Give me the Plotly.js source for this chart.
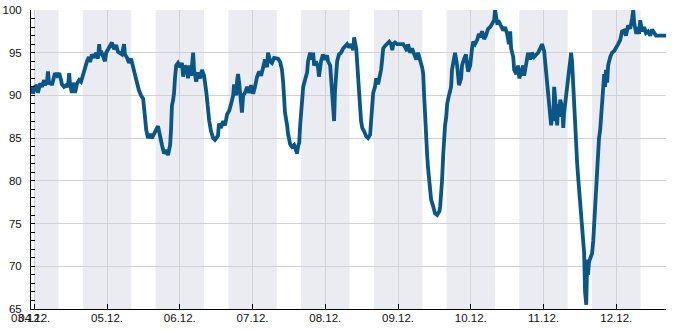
<!DOCTYPE html>
<html>
<head>
<meta charset="utf-8">
<script src="https://cdn.plot.ly/plotly-3.0.1.min.js"></script>
<style>html,body{margin:0;padding:0;background:#fff;}#chart{width:685px;height:330px;}</style>
</head>
<body>
<div id="chart"></div>
<script>
// hours since 04.12. 00:00
var hours = [
-1.1,-0.8,-0.4,0.2,0.9,1.2,1.9,2.5,3.2,3.5,4.2,4.5,4.9,5.5,5.8,6.5,6.8,7.5,8.2,8.8,9.1,9.8,10.5,11.1,11.5,11.8,12.4,12.8,13.4,14.1,14.8,15.4,16.1,16.7,17.4,18.0,18.4,19.0,19.7,20.4,21.0,21.4,21.7,
22.0,22.7,23.3,23.7,24.3,25.0,25.6,26.3,27.0,27.6,28.3,28.9,29.6,29.9,30.6,31.2,31.9,32.6,33.2,33.9,34.5,35.2,35.9,36.5,36.9,37.5,38.2,38.8,39.5,40.2,40.8,41.5,42.1,42.8,43.5,44.1,44.8,45.1,45.4,45.8,46.1,46.4,46.8,47.4,48.1,48.7,49.1,49.7,50.4,50.7,51.1,
51.7,52.4,52.7,53.4,54.0,54.7,55.3,56.0,56.7,57.0,57.3,57.7,58.3,59.0,59.6,60.3,60.6,60.9,61.6,62.3,62.9,63.6,64.3,64.9,65.6,65.9,66.6,66.9,67.2,67.6,68.2,68.5,68.9,69.5,70.2,70.9,71.5,72.2,72.8,73.5,74.2,74.8,75.5,76.1,76.8,77.1,77.8,78.4,79.1,79.8,80.4,81.1,81.7,82.1,82.4,82.7,83.4,83.7,84.4,85.0,85.7,86.4,86.7,87.0,87.4,87.7,88.0,88.3,88.7,89.3,90.0,90.3,91.0,91.6,92.0,92.3,92.9,93.6,93.9,94.6,95.2,95.9,96.6,96.9,97.6,97.9,98.2,98.6,98.9,99.2,99.6,99.9,100.5,101.2,101.9,102.5,103.2,103.9,
104.5,105.2,105.5,106.2,106.5,106.8,107.2,107.5,107.8,108.2,108.8,109.5,110.1,110.8,111.1,111.5,111.8,112.4,112.8,113.4,114.1,114.4,114.7,115.1,115.7,116.4,117.1,117.7,118.1,118.4,119.0,119.7,120.4,121.0,121.7,122.4,123.0,123.3,124.0,124.6,125.3,126.0,126.6,127.3,127.6,128.0,128.3,128.6,128.9,129.3,129.6,129.9,130.3,130.6,130.9,131.6,132.2,132.9,133.6,133.9,134.2,134.5,134.9,135.2,135.5,135.9,136.2,136.8,137.5,137.8,138.5,138.8,139.5,140.1,140.8,141.1,141.8,142.4,143.1,143.8,144.4,144.8,145.4,146.1,146.7,147.1,147.7,148.4,149.0,149.7,150.4,151.0,151.7,152.0,152.7,153.3,154.0,154.7,155.3,
156.0,156.6,157.0,157.3,158.0,158.3,159.0,159.6,160.0,160.6,161.3,161.6,162.3,162.9,163.6,164.2,164.9,165.6,166.2,166.9,167.5,168.2,168.5,168.9,169.2,169.5,169.9,170.2,170.5,170.9,171.2,171.5,171.8,172.2,172.5,172.8,173.2,173.5,174.2,174.5,174.8,175.1,175.5,175.8,176.1,176.5,176.8,177.1,177.4,177.8,178.1,178.4,178.8,179.1,179.4,179.7,180.1,180.4,180.7,181.1,181.4,181.7,182.1,182.4,182.7,183.0,183.4,184.0,184.4,184.7,185.0,185.3,185.7,186.0,186.3,186.7,187.0,187.3,187.7,188.0,188.3,188.6,189.0,189.3,190.0,190.6,191.3,191.9,192.6,193.3,193.9,194.6,195.2,195.9,196.6,197.2,197.6,197.9,198.6,198.9,199.5,199.9,200.5,201.2,201.8,202.5,203.2,203.8,204.5,205.1,205.8,207.1,208.4
];
var values = [
90.5,91.0,90.2,91.0,91.2,90.3,91.4,91.0,91.8,91.2,91.6,92.8,91.3,91.6,91.2,92.0,92.6,92.3,92.6,91.8,91.3,91.0,91.2,91.0,92.6,91.2,90.3,91.5,90.3,91.4,91.8,91.6,92.5,93.3,94.0,94.5,93.9,94.8,94.4,95.0,94.3,96.0,94.7,
95.2,94.6,94.0,95.0,95.4,95.8,96.2,95.4,95.9,95.1,95.0,94.8,96.0,94.8,94.4,93.8,94.3,93.2,92.3,91.6,90.6,90.0,89.6,87.5,86.0,85.0,85.5,85.0,85.4,86.0,86.4,85.0,84.2,83.2,83.6,83.0,84.2,86.0,88.8,89.5,90.3,92.0,93.5,93.8,93.3,93.8,92.2,93.5,93.0,92.0,93.5,
92.3,95.0,93.0,91.6,92.7,92.0,93.0,92.3,90.5,89.2,88.0,87.0,85.8,85.0,84.8,85.3,85.3,86.7,86.2,87.0,86.5,87.8,88.2,89.0,90.0,91.3,90.0,91.7,92.5,91.4,89.5,88.0,90.0,90.3,91.0,90.3,91.2,90.2,91.0,92.2,92.8,92.3,93.3,94.2,93.3,95.0,94.0,93.8,94.4,94.3,94.3,93.9,93.0,91.5,89.5,88.0,86.5,85.5,84.3,84.0,84.2,83.3,83.2,84.0,84.5,86.5,88.0,90.0,91.0,91.8,92.7,94.0,95.0,94.2,95.0,93.5,94.0,93.3,92.2,94.0,94.8,94.2,94.7,94.0,93.5,92.0,90.0,88.5,87.0,90.5,93.0,94.0,94.8,95.0,95.5,95.8,96.0,95.6,
96.0,95.3,96.8,95.5,93.5,91.2,89.5,88.5,87.0,86.2,85.8,85.2,85.0,85.4,87.0,89.3,90.3,91.0,92.0,91.3,92.2,93.0,94.0,95.5,95.8,96.1,96.3,96.0,95.3,96.0,96.2,96.0,96.0,96.0,96.0,95.6,95.2,96.0,95.0,95.5,94.7,94.2,95.0,94.3,93.7,93.2,92.5,90.0,87.0,85.0,83.0,81.5,80.0,78.5,77.8,77.0,76.2,76.0,76.4,77.0,78.0,80.0,83.0,85.0,86.5,87.5,89.0,90.0,91.0,93.0,94.5,95.0,93.5,91.2,92.0,93.5,94.3,94.8,92.8,93.5,95.5,96.3,96.0,96.5,97.2,96.8,97.5,96.6,97.0,97.8,98.0,98.3,98.8,100.0,98.5,98.6,98.0,97.6,98.0,
97.2,96.0,97.5,95.5,94.5,93.0,92.5,93.5,92.0,92.7,93.5,92.3,94.0,95.0,94.2,95.0,94.5,94.8,95.0,95.5,96.0,95.2,94.0,92.5,91.5,90.3,89.0,87.5,86.5,88.0,87.0,91.0,90.0,88.0,86.5,89.0,87.5,89.5,88.5,86.2,88.0,89.0,90.5,91.5,92.0,93.5,94.5,95.0,94.0,91.0,88.0,85.0,83.0,82.0,80.5,79.0,78.0,76.0,74.5,73.5,71.5,67.0,65.5,70.8,69.0,70.5,71.0,71.5,73.0,75.0,77.0,79.0,81.0,83.0,85.0,86.0,87.5,90.0,91.5,92.5,91.0,93.0,91.5,93.5,94.5,95.0,95.2,95.5,96.0,96.5,97.5,97.6,97.0,98.2,97.8,99.0,100.0,98.5,97.2,98.0,97.2,98.8,97.5,98.0,97.3,97.5,97.0,97.7,97.2,97.0,97.0,97.0,97.0
];
// shaded periods (hours since 04.12. 00:00)
var shadeStart = [0, 16, 40, 64, 88, 112, 136, 160, 184];
var shadeEnd   = [8, 32, 56, 80, 104, 128, 152, 176, 200];
var xRangeHours = [-1.1, 208.4];
var yTickVals = [65, 70, 75, 80, 85, 90, 95, 100];
var extraLabel = '03.12.';

var BASE = Date.UTC(2023, 11, 4, 0, 0, 0);
function toDate(h) {
  return new Date(BASE + h * 3600000).toISOString().replace('T', ' ').slice(0, 19);
}

var x = hours.map(toDate);

var shapes = shadeStart.map(function (s, i) {
  return {
    type: 'rect', xref: 'x', yref: 'paper',
    x0: toDate(s), x1: toDate(shadeEnd[i]), y0: 0, y1: 1,
    fillcolor: '#ebecf1', line: {width: 0}, layer: 'below'
  };
});

var font = {family: 'Liberation Sans, Arial, sans-serif', size: 11.5, color: '#111'};

var trace = {
  x: x, y: values, type: 'scatter', mode: 'lines',
  line: {color: '#0a5687', width: 3.8},
  hoverinfo: 'skip'
};

var layout = {
  width: 685, height: 330,
  margin: {l: 31, r: 19, t: 10, b: 21, pad: 0},
  paper_bgcolor: '#fff', plot_bgcolor: '#fff',
  showlegend: false,
  font: font,
  shapes: shapes,
  xaxis: {
    type: 'date',
    range: [toDate(xRangeHours[0]), toDate(xRangeHours[1])],
    tick0: toDate(0), dtick: 86400000,
    tickformat: '%d.%m.',
    ticks: 'inside', ticklen: 5, tickcolor: '#000', tickwidth: 1,
    showgrid: true, gridcolor: '#d2d2d6', gridwidth: 1,
    showline: true, linecolor: '#000', linewidth: 1,
    zeroline: false, tickfont: font, ticklabelstandoff: -2, fixedrange: true
  },
  yaxis: {
    range: [65, 100],
    tickvals: yTickVals,
    ticks: 'inside', ticklen: 4, tickcolor: '#000', tickwidth: 1,
    minor: {dtick: 1, ticks: 'inside', ticklen: 4, tickcolor: '#000', showgrid: false},
    showgrid: true, gridcolor: '#d2d2d6', gridwidth: 1,
    showline: true, linecolor: '#000', linewidth: 1,
    zeroline: false, tickfont: font, ticklabelstandoff: 6, fixedrange: true
  },
  annotations: [{
    text: extraLabel, xref: 'paper', yref: 'paper',
    x: -0.0065, y: 0, xanchor: 'center', yanchor: 'top',
    yshift: -1, showarrow: false, font: font
  }]
};

Plotly.newPlot('chart', [trace], layout, {staticPlot: true, displayModeBar: false});
</script>
</body>
</html>
